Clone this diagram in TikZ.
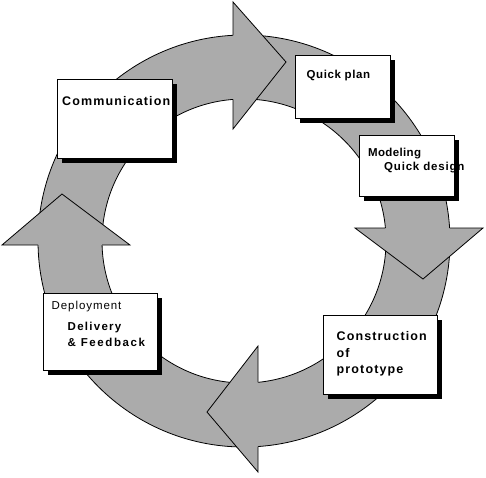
\documentclass[tikz,border=0pt]{standalone}
\usepackage{fontspec}
\setmainfont{Liberation Sans}
\usetikzlibrary{shadows}
\definecolor{ringgray}{HTML}{ABABAB}
\begin{document}
\begin{tikzpicture}[x=1pt,y=-1pt,
  outline/.style={draw=black, line width=0.8pt, line join=miter},
  box/.style={draw=black, fill=white, line width=0.8pt, inner sep=0pt, anchor=north west,
    drop shadow={shadow xshift=5pt, shadow yshift=-5pt, fill=black, opacity=1}},
  lbl/.style={anchor=base west, inner sep=0pt, text=black, font=\bfseries},
  lblr/.style={anchor=base west, inner sep=0pt, text=black}]
\useasboundingbox (0,0) rectangle (486,477);
% ring
\coordinate (C) at (244,241);
\fill[ringgray, even odd rule] (C) circle[radius=206pt] (C) circle[radius=142pt];
\draw[outline] (C) circle[radius=206pt];
\draw[outline] (C) circle[radius=142pt];
% top arrowhead (pointing right)
\fill[ringgray] (233,2) -- (286,62) -- (233,129) -- cycle;
\draw[outline] (233,35.3) -- (233,2) -- (286,62) -- (233,129) -- (233,99.4);
% right arrowhead (pointing down)
\fill[ringgray] (355,228) -- (423,279) -- (483,228) -- cycle;
\draw[outline] (385.4,228) -- (355,228) -- (423,279) -- (483,228) -- (449.6,228);
% bottom arrowhead (pointing left)
\fill[ringgray] (258,346) -- (207,412) -- (258,472) -- cycle;
\draw[outline] (258,382.3) -- (258,346) -- (207,412) -- (258,472) -- (258,446.5);
% left arrowhead (pointing up)
\fill[ringgray] (2,245) -- (62,194) -- (130,245) -- cycle;
\draw[outline] (38,245) -- (2,245) -- (62,194) -- (130,245) -- (102,245);
% boxes
\node[box, minimum width=115pt, minimum height=79pt] (comm) at (57,79) {};
\node[box, minimum width=95pt, minimum height=63pt] (qplan) at (295,55) {};
\node[box, minimum width=95pt, minimum height=61pt] (model) at (359,135) {};
\node[box, minimum width=114pt, minimum height=79pt] (constr) at (323,315) {};
\node[box, minimum width=114pt, minimum height=77pt] (deploy) at (43,293) {};
% labels
\node[lbl] (commT) at (62,105.7) {\fontsize{12.5}{15}\selectfont\addfontfeature{LetterSpace=9}Communication};
\node[lbl] (qplanT) at (306.5,78.3) {\fontsize{11.5}{14}\selectfont\addfontfeature{LetterSpace=5}Quick plan};
\node[lbl] (modelA) at (368,156.7) {\fontsize{11.5}{14}\selectfont\addfontfeature{LetterSpace=3}Modeling};
\node[lbl] (modelB) at (384,170.5) {\fontsize{11.5}{14}\selectfont\addfontfeature{LetterSpace=7}Quick design};
\node[lbl] (constrA) at (336.5,340.7) {\fontsize{12.5}{15}\selectfont\addfontfeature{LetterSpace=9}Construction};
\node[lbl] (constrB) at (336.5,357.3) {\fontsize{12.5}{15}\selectfont\addfontfeature{LetterSpace=9}of};
\node[lbl] (constrC) at (336.5,373.8) {\fontsize{12.5}{15}\selectfont\addfontfeature{LetterSpace=9}prototype};
\node[lblr] (deployA) at (51.5,309.3) {\fontsize{11.5}{14}\selectfont\addfontfeature{LetterSpace=8}Deployment};
\node[lbl] (deployB) at (67.5,330) {\fontsize{11.5}{14}\selectfont\addfontfeature{LetterSpace=11}Delivery};
\node[lbl] (deployC) at (67.5,346.7) {\fontsize{11.5}{14}\selectfont\addfontfeature{LetterSpace=14}\& Feedback};
\end{tikzpicture}
\end{document}
